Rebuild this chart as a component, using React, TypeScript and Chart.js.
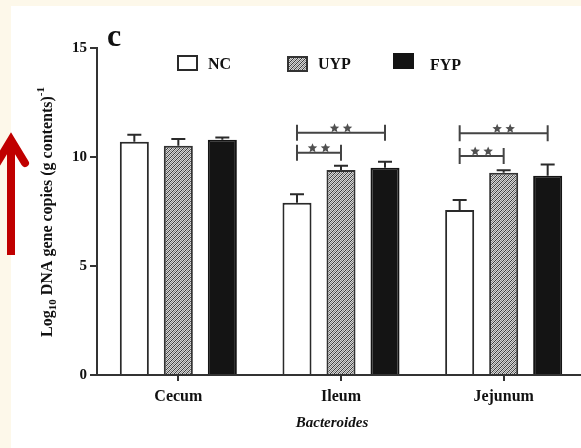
import React, { useEffect, useRef } from 'react';
import { Chart, registerables } from 'chart.js';

Chart.register(...registerables);

const categories = ['Cecum', 'Ileum', 'Jejunum'];
const seriesNames = ['NC', 'UYP', 'FYP'];
const ncMeans = [10.7, 7.9, 7.57];
const ncErrors = [0.32, 0.39, 0.46];
const uypMeans = [10.52, 9.4, 9.28];
const uypErrors = [0.31, 0.2, 0.11];
const fypMeans = [10.79, 9.51, 9.14];
const fypErrors = [0.11, 0.27, 0.52];
const yTicks = [0, 5, 10, 15];
const sigCategory = [1, 1, 2, 2];
const sigFromSeries = [0, 0, 0, 0];
const sigToSeries = [2, 1, 2, 1];
const sigLevel = [11.11, 10.2, 11.09, 10.05];
const sigStars = [2, 2, 2, 2];
const panelLabel = 'c';
const xTitle = 'Bacteroides';
const yTitleParts = ['Log', '10', ' DNA gene copies (g contents)', '-1'];

const FONT = '"Liberation Serif", "Times New Roman", serif';

function drawStar(c: CanvasRenderingContext2D, cx: number, cy: number, r: number) {
  c.beginPath();
  for (let i = 0; i < 10; i++) {
    const rr = i % 2 === 0 ? r : r * 0.45;
    const a = -Math.PI / 2 + (i * Math.PI) / 5;
    const px = cx + rr * Math.cos(a);
    const py = cy + rr * Math.sin(a);
    if (i === 0) c.moveTo(px, py);
    else c.lineTo(px, py);
  }
  c.closePath();
  c.fill();
}

export default function App() {
  const ref = useRef<HTMLCanvasElement>(null);

  useEffect(() => {
    const canvas = ref.current!;
    const ctx = canvas.getContext('2d')!;

    const p = document.createElement('canvas');
    p.width = 4;
    p.height = 4;
    const pc = p.getContext('2d')!;
    pc.fillStyle = '#d6d6d6';
    pc.fillRect(0, 0, 4, 4);
    pc.fillStyle = '#3c3c3c';
    for (let i = 0; i < 4; i++) pc.fillRect(i, 3 - i, 1, 1);
    pc.fillStyle = '#8c8c8c';
    for (let i = 0; i < 4; i++) pc.fillRect(i, (5 - i) % 4, 1, 1);
    const pattern = ctx.createPattern(p, 'repeat')!;

    const means = [ncMeans, uypMeans, fypMeans];
    const errors = [ncErrors, uypErrors, fypErrors];
    const fills: any[] = ['#ffffff', pattern, '#141414'];
    const borders = ['#2a2a2a', '#333333', '#141414'];

    const bgPlugin = {
      id: 'bg',
      beforeDraw(chart: any) {
        const c = chart.ctx;
        c.save();
        c.fillStyle = '#fdf8ea';
        c.fillRect(0, 0, chart.width, chart.height);
        c.fillStyle = '#ffffff';
        c.fillRect(11, 6, chart.width - 11, chart.height - 6);
        c.restore();
      },
    };

    const errPlugin = {
      id: 'errs',
      afterDatasetsDraw(chart: any) {
        const c = chart.ctx;
        const y = chart.scales.y;
        c.save();
        c.strokeStyle = '#2a2a2a';
        c.lineWidth = 2;
        for (let d = 0; d < 3; d++) {
          const meta = chart.getDatasetMeta(d);
          meta.data.forEach((el: any, i: number) => {
            const base = y.getPixelForValue(means[d][i]);
            const top = y.getPixelForValue(means[d][i] + errors[d][i]);
            c.beginPath();
            c.moveTo(el.x, base);
            c.lineTo(el.x, top);
            c.moveTo(el.x - 7, top);
            c.lineTo(el.x + 7, top);
            c.stroke();
          });
        }
        for (let k = 0; k < sigCategory.length; k++) {
          const x1 = chart.getDatasetMeta(sigFromSeries[k]).data[sigCategory[k]].x;
          const x2 = chart.getDatasetMeta(sigToSeries[k]).data[sigCategory[k]].x;
          const yy = y.getPixelForValue(sigLevel[k]);
          c.strokeStyle = '#444';
          c.lineWidth = 2;
          c.beginPath();
          c.moveTo(x1, yy);
          c.lineTo(x2, yy);
          c.moveTo(x1, yy - 8);
          c.lineTo(x1, yy + 8);
          c.moveTo(x2, yy - 8);
          c.lineTo(x2, yy + 8);
          c.stroke();
          const mid = (x1 + x2) / 2;
          c.fillStyle = '#505050';
          const n = sigStars[k];
          for (let j = 0; j < n; j++) {
            const off = (j - (n - 1) / 2) * 13;
            drawStar(c, mid + off, yy - 4.5, 5);
          }
        }
        c.restore();
      },
    };

    const decoPlugin = {
      id: 'deco',
      afterDraw(chart: any) {
        const c = chart.ctx;
        c.save();
        c.fillStyle = '#111';
        c.font = 'bold 32px ' + FONT;
        c.textAlign = 'left';
        c.textBaseline = 'alphabetic';
        c.fillText(panelLabel, 107, 46);

        const boxX = [177, 287, 393];
        const boxY = [55, 56, 53];
        const textX = [208, 318, 430];
        const textY = [65, 65, 66];
        for (let i = 0; i < 3; i++) {
          c.fillStyle = fills[i];
          c.fillRect(boxX[i], boxY[i], 21, 16);
          c.strokeStyle = borders[i];
          c.lineWidth = 2;
          c.strokeRect(boxX[i] + 1, boxY[i] + 1, 19, 14);
          c.fillStyle = '#111';
          c.font = 'bold 16px ' + FONT;
          c.textBaseline = 'middle';
          c.fillText(seriesNames[i], textX[i], textY[i]);
        }

        c.font = 'italic bold 15px ' + FONT;
        c.textAlign = 'center';
        c.textBaseline = 'middle';
        c.fillText(xTitle, 332, 423);

        c.translate(47, 212);
        c.rotate(-Math.PI / 2);
        const big = 'bold 16px ' + FONT;
        const small = 'bold 11px ' + FONT;
        const fonts = [big, small, big, small];
        const dy = [0, 4, 0, -8];
        let total = 0;
        const widths = yTitleParts.map((t, i) => {
          c.font = fonts[i];
          const w = c.measureText(t).width;
          total += w;
          return w;
        });
        let x = -total / 2;
        c.textAlign = 'left';
        c.textBaseline = 'alphabetic';
        yTitleParts.forEach((t, i) => {
          c.font = fonts[i];
          c.fillText(t, x, 5 + dy[i]);
          x += widths[i];
        });
        c.restore();

        c.save();
        c.strokeStyle = '#c00000';
        c.lineWidth = 8;
        c.lineCap = 'butt';
        c.beginPath();
        c.moveTo(11, 140);
        c.lineTo(11, 255);
        c.stroke();
        c.lineJoin = 'miter';
        c.lineCap = 'round';
        c.beginPath();
        c.moveTo(-3, 163);
        c.lineTo(11, 140);
        c.lineTo(25, 163);
        c.stroke();
        c.restore();
      },
    };

    const tickFont = { family: FONT, size: 16, weight: 'bold' as const };

    const chart = new Chart(ctx, {
      type: 'bar',
      data: {
        labels: categories,
        datasets: [
          { label: seriesNames[0], data: ncMeans, backgroundColor: fills[0], borderColor: borders[0], borderWidth: 2 },
          { label: seriesNames[1], data: uypMeans, backgroundColor: fills[1], borderColor: borders[1], borderWidth: 2 },
          { label: seriesNames[2], data: fypMeans, backgroundColor: fills[2], borderColor: borders[2], borderWidth: 2 },
        ],
      },
      options: {
        responsive: false,
        devicePixelRatio: 1,
        animation: false,
        datasets: { bar: { categoryPercentage: 0.8115, barPercentage: 0.66 } },
        layout: { padding: { top: 48, right: 7, left: 0, bottom: 0 } },
        plugins: { legend: { display: false }, tooltip: { enabled: false } },
        scales: {
          x: {
            type: 'category',
            offset: true,
            grid: { display: true, drawOnChartArea: false, drawTicks: true, tickLength: 6, color: '#333', lineWidth: 2, offset: false },
            border: { display: true, color: '#333', width: 2 },
            ticks: { font: tickFont, color: '#111', padding: 6, maxRotation: 0 },
            afterFit(s: any) {
              s.height = 73;
            },
          },
          y: {
            min: 0,
            max: 15,
            grid: { display: true, drawOnChartArea: false, drawTicks: true, tickLength: 7, color: '#333', lineWidth: 2 },
            border: { display: true, color: '#333', width: 2 },
            ticks: { font: { family: FONT, size: 15, weight: 'bold' }, color: '#111', padding: 3 },
            afterBuildTicks(s: any) {
              s.ticks = yTicks.map((v) => ({ value: v }));
            },
            afterFit(s: any) {
              s.width = 97;
            },
          },
        },
      },
      plugins: [bgPlugin, errPlugin, decoPlugin],
    });

    return () => chart.destroy();
  }, []);

  return (
    <div style={{ position: 'fixed', left: 0, top: 0, width: 581, height: 448, overflow: 'hidden', background: '#ffffff' }}>
      <canvas ref={ref} width={592} height={448} style={{ display: 'block', width: 592, height: 448 }} />
    </div>
  );
}
